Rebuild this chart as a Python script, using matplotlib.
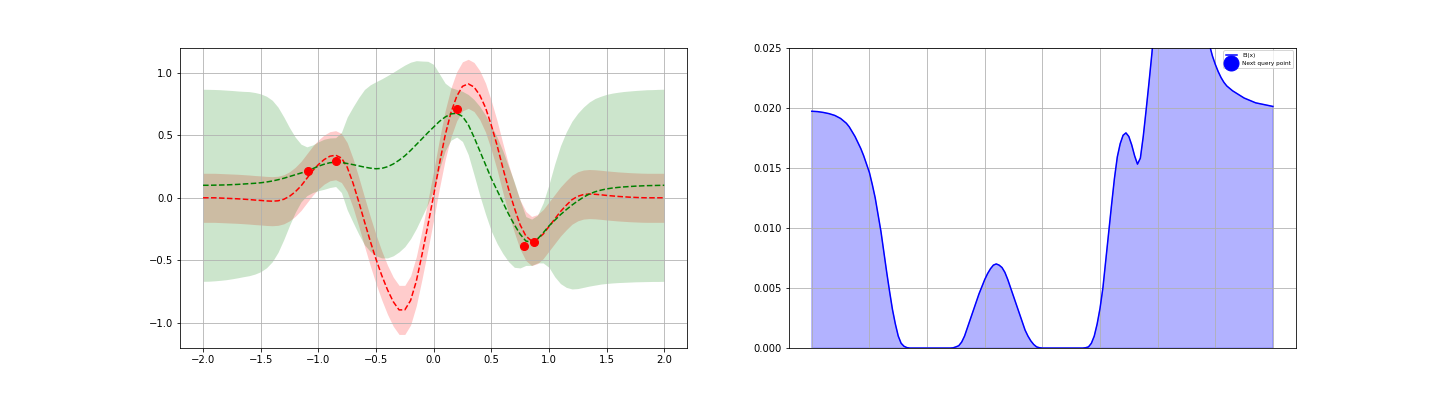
import numpy as np
import matplotlib
matplotlib.use("Agg")
import matplotlib.pyplot as plt

# grid of x positions used for the left panel (step 0.05)
x_grid = np.round(np.linspace(-2, 2, 81), 2)

# true function (red dashed)
f_true = [0.000, 0.000, 0.000, -0.002, -0.004, -0.006, -0.008, -0.011, -0.014, -0.018,
          -0.021, -0.025, -0.027, -0.024, -0.012, 0.012, 0.048, 0.095, 0.155, 0.215,
          0.265, 0.305, 0.332, 0.340, 0.318, 0.245, 0.120, -0.030, -0.190, -0.345,
          -0.490, -0.620, -0.735, -0.830, -0.895, -0.895, -0.820, -0.665, -0.450, -0.220,
          0.020, 0.270, 0.500, 0.680, 0.810, 0.890, 0.910, 0.885, 0.820, 0.720,
          0.580, 0.420, 0.240, 0.070, -0.080, -0.215, -0.305, -0.345, -0.330, -0.290,
          -0.230, -0.170, -0.110, -0.060, -0.015, 0.012, 0.026, 0.030, 0.028, 0.024,
          0.019, 0.015, 0.011, 0.008, 0.005, 0.003, 0.001, 0.000, 0.000, 0.000, 0.000]
noise_band = 0.196

# GP posterior mean (green dashed) and its std band
gp_mean = [0.100, 0.100, 0.101, 0.102, 0.103, 0.105, 0.107, 0.110, 0.113, 0.116,
           0.120, 0.126, 0.134, 0.144, 0.156, 0.170, 0.184, 0.198, 0.212, 0.232,
           0.252, 0.268, 0.280, 0.285, 0.282, 0.274, 0.265, 0.255, 0.245, 0.237,
           0.232, 0.235, 0.248, 0.270, 0.300, 0.335, 0.378, 0.425, 0.472, 0.520,
           0.565, 0.610, 0.645, 0.670, 0.675, 0.650, 0.585, 0.485, 0.375, 0.265,
           0.155, 0.060, -0.035, -0.130, -0.215, -0.290, -0.345, -0.355, -0.330, -0.280,
           -0.225, -0.180, -0.135, -0.095, -0.058, -0.025, 0.005, 0.030, 0.048, 0.061,
           0.071, 0.078, 0.083, 0.087, 0.090, 0.093, 0.095, 0.097, 0.098, 0.099, 0.100]
gp_std = [0.767, 0.766, 0.764, 0.761, 0.757, 0.752, 0.746, 0.740, 0.735, 0.725,
          0.710, 0.685, 0.645, 0.580, 0.490, 0.390, 0.300, 0.230, 0.195, 0.190,
          0.195, 0.200, 0.198, 0.195, 0.240, 0.370, 0.460, 0.545, 0.620, 0.665,
          0.695, 0.715, 0.728, 0.733, 0.732, 0.725, 0.705, 0.670, 0.620, 0.570,
          0.500, 0.380, 0.270, 0.210, 0.190, 0.200, 0.240, 0.300, 0.355, 0.395,
          0.420, 0.425, 0.410, 0.380, 0.340, 0.270, 0.195, 0.185, 0.190, 0.240,
          0.330, 0.450, 0.550, 0.620, 0.670, 0.700, 0.720, 0.735, 0.745, 0.750,
          0.755, 0.758, 0.760, 0.762, 0.763, 0.764, 0.765, 0.766, 0.766, 0.767, 0.767]

# observed samples
obs_x = [-1.087, -0.85, 0.204, 0.782, 0.874]
obs_y = [0.213, 0.293, 0.709, -0.387, -0.352]

# expected improvement (right panel)
ei_x = [-2.0, -1.95, -1.9, -1.85, -1.8, -1.75, -1.7, -1.675, -1.65, -1.625,
        -1.6, -1.575, -1.55, -1.525, -1.5, -1.475, -1.45, -1.425, -1.4, -1.375,
        -1.35, -1.325, -1.3, -1.275, -1.25, -1.225, -1.2, -1.175, -1.15, -0.8,
        -0.775, -0.75, -0.725, -0.7, -0.675, -0.65, -0.625, -0.6, -0.575, -0.55,
        -0.525, -0.5, -0.475, -0.45, -0.425, -0.4, -0.375, -0.35, -0.325, -0.3,
        -0.275, -0.25, -0.225, -0.2, -0.175, -0.15, -0.125, -0.1, -0.075, -0.05,
        -0.025, 0.0, 0.35, 0.375, 0.4, 0.425, 0.45, 0.475, 0.5, 0.525,
        0.55, 0.575, 0.6, 0.625, 0.65, 0.675, 0.7, 0.725, 0.75, 0.775,
        0.8, 0.825, 0.85, 0.875, 0.9, 0.925, 0.95, 0.975, 1.0, 1.05,
        1.1, 1.15, 1.2, 1.25, 1.3, 1.35, 1.4, 1.425, 1.45, 1.475,
        1.5, 1.525, 1.55, 1.575, 1.6, 1.65, 1.7, 1.75, 1.8, 1.85,
        1.9, 1.95, 2.0]
ei_y = [0.0197, 0.01967, 0.0196, 0.0195, 0.01935, 0.0191, 0.0187, 0.0184, 0.0180, 0.0176,
        0.0171, 0.0166, 0.0160, 0.0153, 0.0146, 0.0136, 0.0125, 0.0111, 0.0097, 0.0080,
        0.0063, 0.0047, 0.0032, 0.0020, 0.0010, 0.0004, 0.00015, 0.00004, 0.0, 0.0,
        0.00002, 0.0001, 0.0002, 0.0005, 0.0010, 0.0017, 0.0024, 0.0031, 0.0038, 0.0045,
        0.0051, 0.0057, 0.0062, 0.0066, 0.0069, 0.0070, 0.0069, 0.0067, 0.0063, 0.0057,
        0.0050, 0.0043, 0.0036, 0.0029, 0.0022, 0.0015, 0.0010, 0.0006, 0.0003, 0.0001,
        0.00003, 0.0, 0.0, 0.00003, 0.0001, 0.0004, 0.0010, 0.0020, 0.0033, 0.0050,
        0.0073, 0.0096, 0.0119, 0.0141, 0.0159, 0.0170, 0.0177, 0.0179, 0.0176, 0.0169,
        0.0160, 0.0153, 0.0158, 0.0176, 0.0198, 0.0221, 0.0245, 0.0272, 0.0300, 0.0340,
        0.0370, 0.0380, 0.0380, 0.0360, 0.0330, 0.0300, 0.0275, 0.0263, 0.0252, 0.0243,
        0.0236, 0.0230, 0.0225, 0.0221, 0.0218, 0.0214, 0.0211, 0.0208, 0.0206, 0.0204,
        0.0203, 0.0202, 0.0201]
next_x = 1.17
next_y = 0.0385

f_true = np.array(f_true)
gp_mean = np.array(gp_mean)
gp_std = np.array(gp_std)

fig = plt.figure(figsize=(20, 5.5), dpi=72)
fig.subplots_adjust(bottom=0.121)

# --- left: GP fit
ax1 = fig.add_subplot(1, 2, 1)
ax1.plot(x_grid, f_true, 'r--', lw=1.5)
ax1.fill_between(x_grid, f_true - noise_band, f_true + noise_band, color='r', alpha=0.2, lw=0)
ax1.plot(x_grid, gp_mean, 'g--', lw=1.5)
ax1.fill_between(x_grid, gp_mean - gp_std, gp_mean + gp_std, color='g', alpha=0.2, lw=0)
ax1.plot(obs_x, obs_y, 'ro', markersize=8)
ax1.set_ylim(-1.2, 1.2)
ax1.grid(True)

# --- right: acquisition function
ax2 = fig.add_subplot(1, 2, 2)
ax2.plot(ei_x, ei_y, 'b-', lw=1.5, label='EI(x)')
ax2.fill_between(ei_x, 0, ei_y, color='b', alpha=0.3)
ax2.plot(next_x, next_y, 'bo', markersize=15, label='Next query point')
ax2.set_ylim(0, 0.025)
ax2.set_xticks(np.arange(-2, 2.01, 0.5))
ax2.set_xticklabels([])
ax2.tick_params(axis='x', length=0)
ax2.grid(True)
ax2.legend(loc='upper right', fontsize='xx-small')

fig.savefig('out.png', dpi=72)
